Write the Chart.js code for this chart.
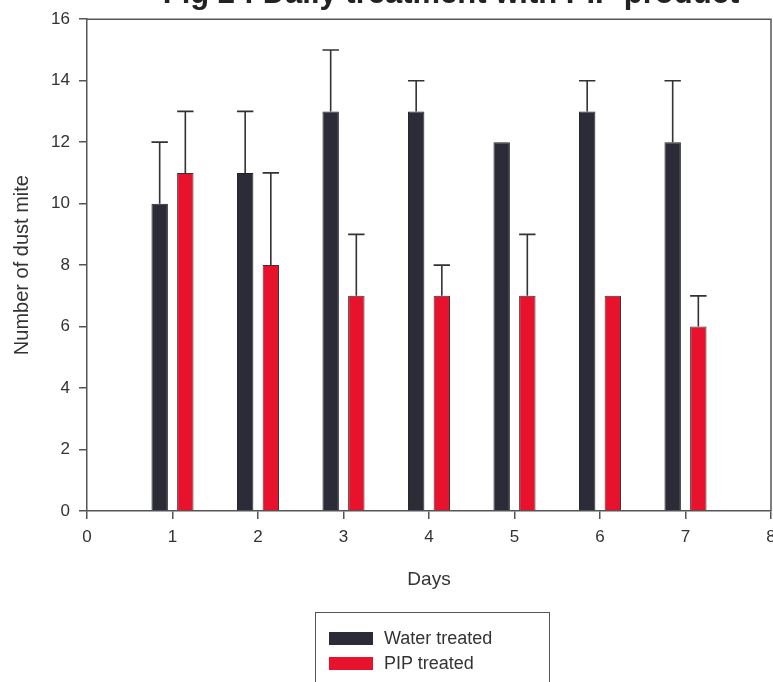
<!DOCTYPE html>
<html>
<head>
<meta charset="utf-8">
<script src="https://cdn.jsdelivr.net/npm/chart.js@4/dist/chart.umd.min.js"></script>
<style>
  html, body { margin: 0; padding: 0; background: #fff; }
  #wrap { position: relative; width: 773px; height: 682px; overflow: hidden; font-family: "Liberation Sans", Arial, sans-serif; }
  #chart { position: absolute; left: 0; top: 0; }
  .fig-title { position: absolute; left: 451px; top: -23px; transform: translateX(-50%); white-space: nowrap;
    font-size: 31px; line-height: 31px; font-weight: bold; color: #222; }
  .legend { position: absolute; left: 315px; top: 612px; width: 235px; height: 100px; border: 1.5px solid #555; box-sizing: border-box; }
  .legend-item { position: absolute; left: 13px; height: 20px; font-size: 18px; line-height: 20px; color: #333; white-space: nowrap; }
  .legend-item span { position: absolute; left: 0; top: 4px; width: 44px; height: 13px; }
  .legend-item b { position: absolute; left: 55px; top: 0; font-weight: normal; }
</style>
</head>
<body>
<div id="wrap">
  <canvas id="chart" width="773" height="682"></canvas>
  <div class="fig-title">Fig 2 : Daily treatment with PIP product</div>
  <div class="legend" id="legend"></div>
</div>
<script>
//data
const days = [1, 2, 3, 4, 5, 6, 7];
const seriesNames = ['Water treated', 'PIP treated'];
const waterMean = [10, 11, 13, 13, 12, 13, 12];
const waterErr = [2, 2, 2, 1, 0, 1, 2];
const pipMean = [11, 8, 7, 7, 7, 7, 6];
const pipErr = [2, 3, 2, 1, 2, 0, 1];
const xTicks = [0, 1, 2, 3, 4, 5, 6, 7, 8];
const yTicks = [0, 2, 4, 6, 8, 10, 12, 14, 16];

const colors = ['#2b2c38', '#e8122d'];
const axisColor = '#555';
const textColor = '#333';
const fontFamily = '"Liberation Sans", Arial, sans-serif';

function points(means) {
  return days.map((d, i) => ({ x: d, y: means[i] }));
}

// error bars (upper only, with cap)
const errorBars = {
  id: 'errorBars',
  afterDatasetsDraw(chart) {
    const ctx = chart.ctx;
    const yScale = chart.scales.y;
    const errs = [waterErr, pipErr];
    ctx.save();
    ctx.strokeStyle = '#333';
    ctx.lineWidth = 1.6;
    chart.data.datasets.forEach((ds, di) => {
      const meta = chart.getDatasetMeta(di);
      meta.data.forEach((bar, i) => {
        const e = errs[di][i];
        if (!e) return;
        const top = yScale.getPixelForValue(ds.data[i].y + e);
        const half = bar.width / 2;
        ctx.beginPath();
        ctx.moveTo(bar.x, bar.y);
        ctx.lineTo(bar.x, top);
        ctx.moveTo(bar.x - half, top);
        ctx.lineTo(bar.x + half, top);
        ctx.stroke();
      });
    });
    ctx.restore();
  }
};

// box round the plot area
const frame = {
  id: 'frame',
  beforeDatasetsDraw(chart) {
    const a = chart.chartArea;
    const ctx = chart.ctx;
    ctx.save();
    ctx.strokeStyle = axisColor;
    ctx.lineWidth = 1.5;
    ctx.beginPath();
    ctx.moveTo(a.left, a.top);
    ctx.lineTo(a.right, a.top);
    ctx.lineTo(a.right, a.bottom);
    ctx.stroke();
    ctx.restore();
  }
};

const ctx = document.getElementById('chart').getContext('2d');
const chart = new Chart(ctx, {
  type: 'bar',
  data: {
    datasets: [
      { label: seriesNames[0], data: points(waterMean), backgroundColor: colors[0], borderColor: '#222', borderWidth: 1 },
      { label: seriesNames[1], data: points(pipMean), backgroundColor: colors[1], borderColor: '#333', borderWidth: 1 }
    ]
  },
  options: {
    responsive: false,
    animation: false,
    categoryPercentage: 0.6,
    barPercentage: 0.64,
    layout: { padding: { top: 19, right: 2, left: 0, bottom: 91 } },
    plugins: {
      legend: { display: false },
      title: { display: false },
      tooltip: { enabled: false }
    },
    scales: {
      x: {
        type: 'linear',
        min: 0,
        max: 8,
        offset: false,
        afterBuildTicks: (s) => { s.ticks = xTicks.map(v => ({ value: v })); },
        afterFit: (s) => { s.height = 80; s.paddingRight = 0; s.paddingLeft = 0; },
        grid: { offset: false, drawOnChartArea: false, drawTicks: true, tickLength: 8, color: axisColor, lineWidth: 1.5 },
        border: { display: true, color: axisColor, width: 1.5 },
        ticks: { color: textColor, padding: 8, font: { family: fontFamily, size: 17 }, maxRotation: 0 },
        title: { display: true, text: 'Days', color: textColor, padding: { top: 0, bottom: 0 }, font: { family: fontFamily, size: 19 } }
      },
      y: {
        min: 0,
        max: 16,
        afterBuildTicks: (s) => { s.ticks = yTicks.map(v => ({ value: v })); },
        afterFit: (s) => { s.width = 87; },
        grid: { drawOnChartArea: false, drawTicks: true, tickLength: 8, color: axisColor, lineWidth: 1.5 },
        border: { display: true, color: axisColor, width: 1.5 },
        ticks: { color: textColor, padding: 9, font: { family: fontFamily, size: 17 } },
        title: { display: true, text: 'Number of dust mite', color: textColor, padding: { top: 10, bottom: 0 }, font: { family: fontFamily, size: 20 } }
      }
    }
  },
  plugins: [frame, errorBars]
});

// legend box
const legend = document.getElementById('legend');
seriesNames.forEach((name, i) => {
  const item = document.createElement('div');
  item.className = 'legend-item';
  item.style.top = (15 + i * 25) + 'px';
  item.innerHTML = '<span style="background:' + colors[i] + '"></span><b>' + name + '</b>';
  legend.appendChild(item);
});
</script>
</body>
</html>
